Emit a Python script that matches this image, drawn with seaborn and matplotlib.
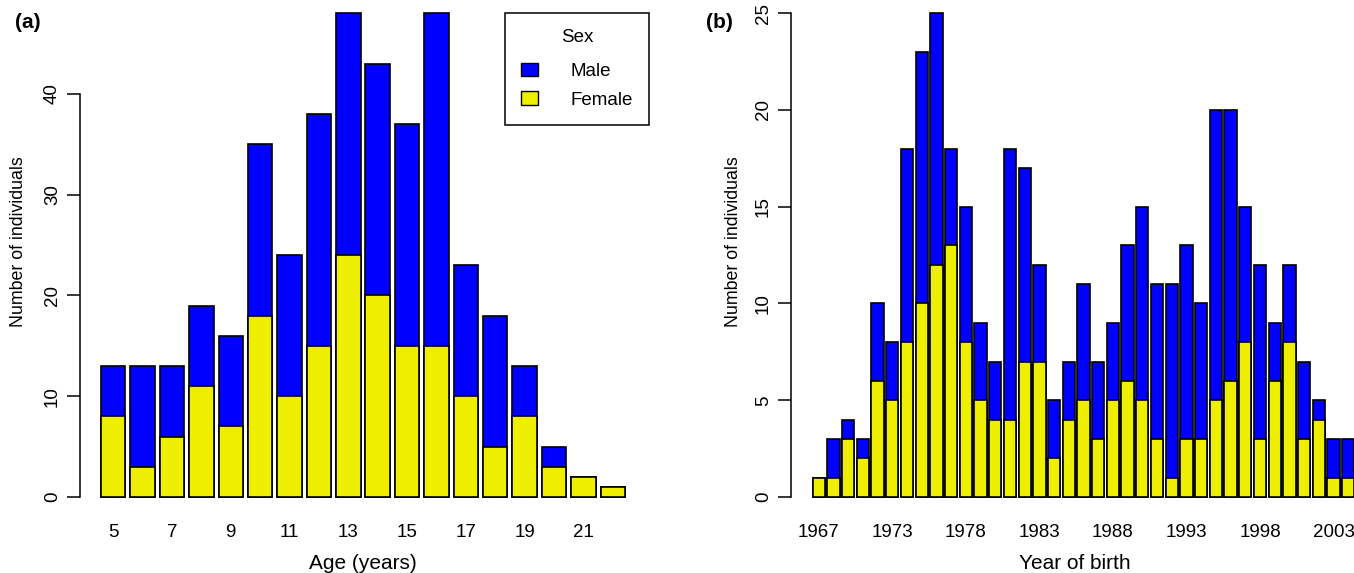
import numpy as np
import pandas as pd
import matplotlib
matplotlib.use("Agg")
import matplotlib.pyplot as plt
from matplotlib.patches import Patch
import seaborn as sns

sns.set_style("white")
plt.rcParams['font.family'] = ['Liberation Sans', 'DejaVu Sans']
plt.rcParams['text.color'] = 'black'
plt.rcParams['axes.labelcolor'] = 'black'
plt.rcParams['xtick.color'] = 'black'
plt.rcParams['ytick.color'] = 'black'

# =========================
# DATA
# =========================

# (a) age distribution
ages = list(range(5, 23))
total_age = [13, 13, 13, 19, 16, 35, 24, 38, 48, 43, 37, 48, 23, 18, 13, 5, 2, 1]
female_age = [8, 3, 6, 11, 7, 18, 10, 15, 24, 20, 15, 15, 10, 5, 8, 3, 2, 1]

# (b) year of birth
years = [1967, 1969, 1970, 1971, 1972] + list(range(1973, 2005))
total_year = [1, 3, 4, 3, 10, 8, 18, 23, 25, 18, 15, 9, 7, 18, 17, 12, 5, 7, 11,
              7, 9, 13, 15, 11, 11, 13, 10, 20, 20, 15, 12, 9, 12, 7, 5, 3, 3]
female_year = [1, 1, 3, 2, 6, 5, 8, 10, 12, 13, 8, 5, 4, 4, 7, 7, 2, 4, 5,
               3, 5, 6, 5, 3, 1, 3, 3, 5, 6, 8, 3, 6, 8, 3, 4, 1, 1]

MALE = "#0000FF"
FEMALE = "#EEEE00"
FS = 13.5
BAR_W = 1 / 1.2

W, H = 1354, 573
fig = plt.figure(figsize=(W / 100, H / 100), dpi=100)


def px_axes(left, right, bottom, top):
    return fig.add_axes([left / W, 1 - bottom / H, (right - left) / W, (bottom - top) / H])


def stacked(ax, cats, total, female, ymax, yticks, label_step, xlabel, xlab_x):
    df = pd.DataFrame({'cat': [str(c) for c in cats], 'total': total, 'female': female})
    sns.barplot(data=df, x='cat', y='total', color=MALE, saturation=1, width=BAR_W,
                edgecolor='black', linewidth=1.2, ax=ax)
    sns.barplot(data=df, x='cat', y='female', color=FEMALE, saturation=1, width=BAR_W,
                edgecolor='black', linewidth=1.2, ax=ax)
    n = len(cats)
    r = n - 1 + BAR_W
    ax.set_xlim(-BAR_W / 2 - 0.04 * r, n - 1 + BAR_W / 2 + 0.04 * r)
    ax.set_ylim(-0.04 * ymax, ymax * 1.04)
    for s in ['top', 'right', 'bottom']:
        ax.spines[s].set_visible(False)
    ax.spines['left'].set_bounds(yticks[0], yticks[-1])
    ax.spines['left'].set_linewidth(1.1)
    ax.spines['left'].set_color('black')
    ax.set_yticks(yticks)
    ax.set_yticklabels([str(t) for t in yticks], rotation=90, va='center', fontsize=FS)
    ax.tick_params(axis='y', length=9.4, width=1.1, pad=4.3, left=True)
    pos = list(range(0, n, label_step))
    ax.set_xticks(pos)
    ax.set_xticklabels([str(cats[i]) for i in pos], fontsize=FS)
    ax.tick_params(axis='x', length=0, pad=5.5)
    ax.set_xlabel(xlabel, fontsize=15)
    ax.xaxis.label.set_va('center')
    ax.xaxis.set_label_coords(xlab_x, -0.09)
    ax.set_ylabel("Number of individuals", fontsize=12.8)
    ax.yaxis.label.set_va('center')


ax_a = px_axes(80, 646, 516.4, -6.2)
stacked(ax_a, ages, total_age, female_age, 48, [0, 10, 20, 30, 40], 2, "Age (years)", 0.5)
ax_a.yaxis.set_label_coords((18 - 80) / 566, 0.525)

ax_b = px_axes(791, 1376, 516.4, -6.2)
stacked(ax_b, years, total_year, female_year, 25, [0, 5, 10, 15, 20, 25], 5, "Year of birth",
        (1075 - 791) / 585)
ax_b.yaxis.set_label_coords((733 - 791) / 585, 0.525)

handles = [Patch(facecolor=MALE, edgecolor='black', linewidth=1, label='Male'),
           Patch(facecolor=FEMALE, edgecolor='black', linewidth=1, label='Female')]
leg = ax_a.legend(handles=handles, title="Sex", loc='upper left',
                  bbox_to_anchor=(505 / W, 1 - 13 / H), bbox_transform=fig.transFigure,
                  borderaxespad=0, fontsize=FS, title_fontsize=FS, frameon=True,
                  fancybox=False, edgecolor='black', framealpha=1, borderpad=0.85,
                  handlelength=0.9, handleheight=0.75, handletextpad=1.75,
                  labelspacing=0.6)
leg.get_frame().set_linewidth(1.1)
# extra room between the title and the entries
leg._legend_box.sep = 12

fig.text(15 / W, 1 - 22 / H, "(a)", fontsize=15, fontweight='bold', va='center', ha='left')
fig.text(706 / W, 1 - 22 / H, "(b)", fontsize=15, fontweight='bold', va='center', ha='left')

fig.savefig("out.png", dpi=100)
